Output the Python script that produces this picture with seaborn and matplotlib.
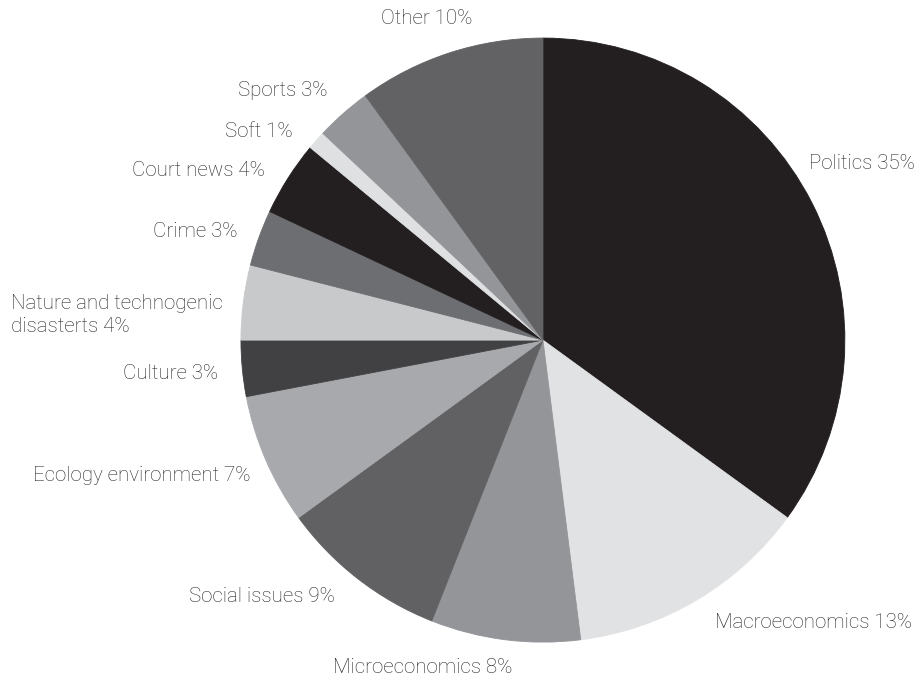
import matplotlib
matplotlib.use('Agg')
import matplotlib.pyplot as plt
import seaborn as sns

topics = ['Politics', 'Macroeconomics', 'Microeconomics', 'Social issues',
          'Ecology environment', 'Culture', 'Nature and technogenic\ndisasterts',
          'Crime', 'Court news', 'Soft', 'Sports', 'Other']
shares = [35, 13, 8, 9, 7, 3, 4, 3, 4, 1, 3, 10]
shades = ['#231f20', '#e1e2e3', '#939598', '#616163', '#a8a9ac', '#414143',
          '#c8c9cb', '#6d6e71', '#231f20', '#dfe0e1', '#939598', '#626264']

labels = [f'{t} {v}%' for t, v in zip(topics, shares)]

# where each label sits in the original (axes data units, radius = 1)
label_xy = [(0.881, 0.586), (0.570, -0.934), (-0.397, -1.083), (-0.689, -0.848),
            (-0.970, -0.447), (-1.076, -0.109), (-1.060, 0.083), (-1.013, 0.361),
            (-0.921, 0.560), (-0.828, 0.689), (-0.715, 0.828), (-0.384, 1.066)]
label_ha = ['left', 'left', 'center', 'right', 'right', 'right', 'right',
            'right', 'right', 'right', 'right', 'center']

sns.set_theme(style='white')
plt.rcParams['font.family'] = ['Roboto', 'DejaVu Sans']

fig = plt.figure(figsize=(9.24, 6.82), dpi=100)
ax = fig.add_axes([0, 0, 1, 1])
wedges, texts = ax.pie(shares, labels=labels, colors=shades, startangle=90,
                       counterclock=False, labeldistance=1.1,
                       wedgeprops=dict(linewidth=0),
                       textprops=dict(fontsize=14.8, color='#262626',
                                      fontweight='light'))
for w in wedges:
    w.set_edgecolor(w.get_facecolor())
    w.set_linewidth(0.6)

for t, xy, ha in zip(texts, label_xy, label_ha):
    t.set_position(xy)
    t.set_ha(ha)
    t.set_va('center')
    t.set_multialignment('left')
    t.set_linespacing(1.25)

ax.set_aspect('auto')
ax.set_xlim(-1.798, 1.262)
ax.set_ylim(-1.132, 1.126)
ax.axis('off')

plt.savefig('out.png', dpi=100, facecolor='white')
